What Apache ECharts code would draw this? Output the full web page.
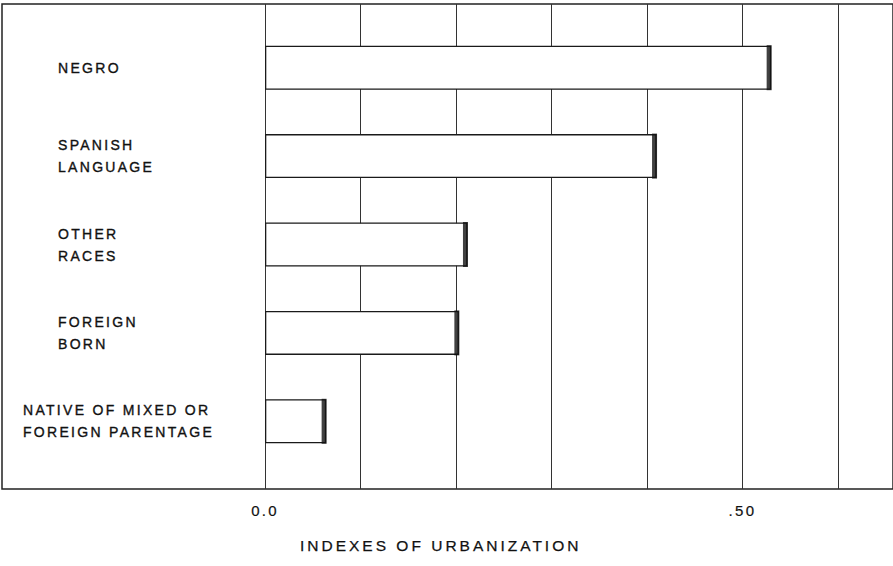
<!DOCTYPE html>
<html>
<head>
<meta charset="utf-8">
<script src="https://cdn.jsdelivr.net/npm/echarts@6/dist/echarts.min.js"></script>
<style>
  html, body { margin: 0; padding: 0; background: #fff; }
  #main { width: 893px; height: 566px; }
  #main svg text { letter-spacing: 2.3px; }
  #main svg text[style*="15.5px"] { letter-spacing: 3.0px; }
</style>
</head>
<body>
<div id="main"></div>
<script>
const categories = [
  'NEGRO',
  'SPANISH\nLANGUAGE',
  'OTHER\nRACES',
  'FOREIGN\nBORN',
  'NATIVE OF MIXED OR\nFOREIGN PARENTAGE'
];
const values = [0.530, 0.410, 0.212, 0.203, 0.064];
const tickLabels = { '0': '0.0', '0.5': '.50' };
const axisTitle = 'INDEXES OF URBANIZATION';

const X_MAX = 0.6576;
const FONT = '"Liberation Sans", Arial, sans-serif';
const INK = '#111';

const chart = echarts.init(document.getElementById('main'), null, { renderer: 'svg' });

chart.setOption({
  backgroundColor: '#fff',
  animation: false,
  title: {
    text: axisTitle,
    left: 300,
    top: 537,
    padding: 0,
    textStyle: { fontFamily: FONT, fontSize: 15.5, fontWeight: 'normal', color: INK,
                 textBorderColor: INK, textBorderWidth: 0.25 }
  },
  grid: [
    { left: 2, top: 4, right: -12, height: 485, show: true, borderColor: '#222', borderWidth: 1.5 },
    { left: 265, top: 4, right: 0, height: 485 },
    { left: 265, top: 23.5, right: 0, height: 442 }
  ],
  xAxis: [
    { gridIndex: 0, type: 'value', show: false },
    {
      gridIndex: 1, type: 'value', min: 0, max: X_MAX, interval: 0.1,
      axisLine: { show: false }, axisTick: { show: false },
      splitLine: { show: true, lineStyle: { color: '#333', width: 1 } },
      axisLabel: {
        margin: 14, fontFamily: FONT, fontSize: 15, color: INK,
        textBorderColor: INK, textBorderWidth: 0.2,
        showMaxLabel: false,
        formatter: v => {
          const k = String(Math.round(v * 10) / 10);
          return tickLabels[k] !== undefined ? tickLabels[k] : '';
        }
      }
    },
    { gridIndex: 2, type: 'value', min: 0, max: X_MAX, show: false }
  ],
  yAxis: [
    { gridIndex: 0, type: 'value', show: false },
    { gridIndex: 1, type: 'value', show: false },
    {
      gridIndex: 2, type: 'category', inverse: true, data: categories,
      axisLine: { show: false }, axisTick: { show: false }, splitLine: { show: false },
      axisLabel: {
        align: 'left', margin: 242, fontFamily: FONT, fontSize: 14, color: INK,
        textBorderColor: INK, textBorderWidth: 0.35,
        lineHeight: 22,
        formatter: (v, i) => {
          if (i === 4) return v;
          return v.split('\n').map(l => '{s|}' + l).join('\n');
        },
        rich: { s: { width: 35, fontSize: 14, lineHeight: 22 } }
      }
    }
  ],
  series: [
    {
      type: 'bar', xAxisIndex: 2, yAxisIndex: 2, data: values, barWidth: 44,
      itemStyle: { color: '#fff', borderColor: '#1a1a1a', borderWidth: 1.3 },
      z: 3
    },
    {
      type: 'scatter', xAxisIndex: 2, yAxisIndex: 2, data: values,
      symbol: 'rect', symbolSize: [5, 45], symbolOffset: [-2, 0],
      itemStyle: { color: '#111' }, z: 4
    }
  ]
});
</script>
</body>
</html>
